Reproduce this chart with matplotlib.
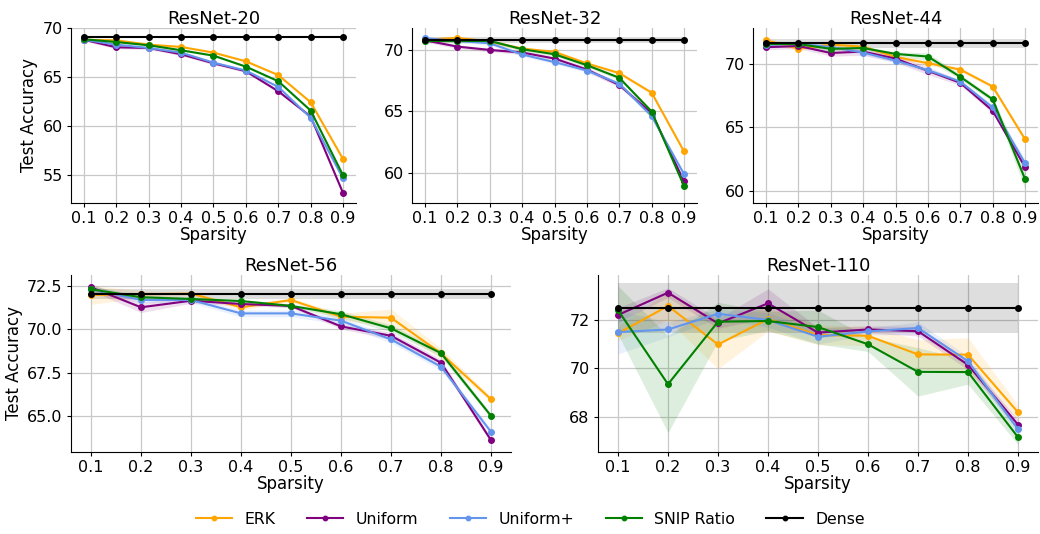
import matplotlib
matplotlib.use("Agg")
import matplotlib.pyplot as plt
import numpy as np

sparsity = [0.1, 0.2, 0.3, 0.4, 0.5, 0.6, 0.7, 0.8, 0.9]
methods = ["ERK", "Uniform", "Uniform+", "SNIP Ratio", "Dense"]
colors = ["orange", "purple", "cornflowerblue", "green", "black"]

# mean test accuracy per method (ERK, Uniform, Uniform+, SNIP Ratio, Dense)
resnet20 = [
    [68.80, 68.74, 68.30, 68.07, 67.49, 66.60, 65.20, 62.43, 56.63],
    [68.80, 68.03, 67.96, 67.32, 66.40, 65.59, 63.55, 60.97, 53.17],
    [68.80, 68.30, 67.96, 67.49, 66.47, 65.66, 63.99, 60.84, 54.66],
    [68.85, 68.57, 68.24, 67.73, 67.18, 66.06, 64.57, 61.58, 54.97],
    [69.05] * 9,
]
resnet32 = [
    [70.81, 70.95, 70.65, 70.08, 69.81, 68.87, 68.09, 66.50, 61.73],
    [70.75, 70.24, 69.97, 69.76, 69.27, 68.38, 67.12, 64.84, 59.30],
    [70.92, 70.70, 70.51, 69.60, 68.98, 68.30, 67.23, 64.60, 59.89],
    [70.70, 70.70, 70.70, 70.03, 69.62, 68.73, 67.71, 64.97, 58.92],
    [70.75] * 9,
]
resnet44 = [
    [71.82, 71.17, 71.48, 71.33, 70.52, 70.03, 69.53, 68.20, 64.06],
    [71.28, 71.38, 70.83, 70.94, 70.39, 69.43, 68.49, 66.30, 61.88],
    [71.48, 71.54, 71.30, 70.86, 70.23, 69.48, 68.59, 66.56, 62.19],
    [71.54, 71.54, 71.15, 71.22, 70.76, 70.55, 68.96, 67.19, 60.94],
    [71.59] * 9,
]
resnet56 = [
    [71.98, 72.02, 72.06, 71.27, 71.69, 70.73, 70.67, 68.62, 65.98],
    [72.42, 71.27, 71.65, 71.46, 71.35, 70.17, 69.63, 68.08, 63.62],
    [72.31, 71.69, 71.69, 70.92, 70.92, 70.50, 69.42, 67.85, 64.10],
    [72.31, 71.85, 71.75, 71.63, 71.35, 70.87, 70.06, 68.63, 65.02],
    [72.02] * 9,
]
resnet110 = [
    [71.45, 72.58, 70.99, 72.04, 71.38, 71.35, 70.58, 70.57, 68.19],
    [72.21, 73.13, 71.86, 72.69, 71.48, 71.61, 71.54, 70.15, 67.68],
    [71.50, 71.61, 72.26, 72.00, 71.31, 71.53, 71.67, 70.30, 67.49],
    [72.41, 69.35, 71.93, 71.96, 71.71, 71.00, 69.86, 69.85, 67.16],
    [72.48] * 9,
]

# spread of the shaded bands
std20 = [
    [0.10, 0.10, 0.10, 0.10, 0.10, 0.10, 0.10, 0.10, 0.15],
    [0.15, 0.15, 0.15, 0.15, 0.15, 0.15, 0.15, 0.15, 0.15],
    [0.10, 0.10, 0.10, 0.10, 0.10, 0.10, 0.10, 0.10, 0.15],
    [0.10, 0.10, 0.10, 0.10, 0.10, 0.10, 0.10, 0.10, 0.15],
    [0.10] * 9,
]
std32 = [
    [0.15, 0.15, 0.15, 0.15, 0.15, 0.15, 0.15, 0.15, 0.15],
    [0.15, 0.15, 0.15, 0.15, 0.15, 0.20, 0.20, 0.15, 0.15],
    [0.15, 0.15, 0.15, 0.15, 0.15, 0.15, 0.15, 0.15, 0.15],
    [0.15, 0.15, 0.15, 0.15, 0.15, 0.15, 0.15, 0.15, 0.15],
    [0.25] * 9,
]
std44 = [
    [0.25, 0.15, 0.15, 0.15, 0.15, 0.15, 0.15, 0.15, 0.15],
    [0.20, 0.20, 0.25, 0.30, 0.30, 0.30, 0.20, 0.20, 0.20],
    [0.15, 0.15, 0.15, 0.15, 0.15, 0.15, 0.15, 0.20, 0.30],
    [0.15, 0.15, 0.15, 0.15, 0.15, 0.30, 0.20, 0.20, 0.80],
    [0.35] * 9,
]
std56 = [
    [0.55, 0.20, 0.10, 0.15, 0.10, 0.20, 0.50, 0.30, 0.15],
    [0.20, 0.30, 0.15, 0.10, 0.10, 0.15, 0.20, 0.20, 0.15],
    [0.20, 0.15, 0.15, 0.20, 0.20, 0.20, 0.20, 0.20, 0.15],
    [0.20, 0.10, 0.10, 0.10, 0.10, 0.20, 0.20, 0.20, 0.15],
    [0.30] * 9,
]
std110 = [
    [0.30, 0.60, 1.00, 0.50, 0.40, 0.40, 0.60, 0.70, 0.30],
    [0.30, 0.20, 0.20, 0.60, 0.20, 0.15, 0.20, 0.20, 0.20],
    [0.90, 0.30, 0.20, 0.30, 0.30, 0.15, 0.25, 0.20, 0.20],
    [1.00, 2.00, 0.80, 0.40, 0.70, 0.30, 1.00, 0.50, 0.30],
    [1.03] * 9,
]

panels = [
    ("ResNet-20", resnet20, std20, (52.15, 70.0), [55, 60, 65, 70], "{:.0f}"),
    ("ResNet-32", resnet32, std32, (57.55, 71.75), [60, 65, 70], "{:.0f}"),
    ("ResNet-44", resnet44, std44, (59.06, 72.79), [60, 65, 70], "{:.0f}"),
    ("ResNet-56", resnet56, std56, (62.94, 73.13), [65.0, 67.5, 70.0, 72.5], "{:.1f}"),
    ("ResNet-110", resnet110, std110, (66.55, 73.86), [68, 70, 72], "{:.0f}"),
]

W, H = 1040, 534
# axes boxes in pixels: left, top, right, bottom
boxes = [
    (71, 28, 356, 203),
    (412, 28, 697, 203),
    (753, 28, 1038, 203),
    (71, 275, 511, 452),
    (598, 275, 1038, 452),
]

fig = plt.figure(figsize=(W / 100, H / 100), dpi=100)

handles = []
for i, (title, means, stds, ylim, yticks, fmt) in enumerate(panels):
    l, t, r, b = boxes[i]
    ax = fig.add_axes([l / W, 1 - b / H, (r - l) / W, (b - t) / H])
    for m, c, mu, sd in zip(methods, colors, means, stds):
        mu = np.array(mu)
        sd = np.array(sd)
        ax.fill_between(sparsity, mu - sd, mu + sd, color=c, alpha=0.13, lw=0)
        ln, = ax.plot(sparsity, mu, color=c, marker="o", markersize=4,
                      linewidth=1.5, label=m)
        if i == 0:
            handles.append(ln)

    ax.set_title(title, fontsize=13, pad=3)
    ax.set_ylim(*ylim)
    ax.set_xticks(sparsity)
    ax.set_xticklabels([f"{s:.1f}" for s in sparsity])
    ax.set_yticks(yticks)
    ax.set_yticklabels([fmt.format(v) for v in yticks])
    ax.tick_params(labelsize=11.5, length=3, width=0.8, pad=3)
    ax.set_xlabel("Sparsity", fontsize=12, labelpad=0)
    if i in (0, 3):
        ax.set_ylabel("Test Accuracy", fontsize=12, labelpad=3)
    ax.grid(True, color="#c8c8c8", linewidth=0.9)
    ax.set_axisbelow(True)
    ax.spines["top"].set_visible(False)
    ax.spines["right"].set_visible(False)

fig.legend(handles=handles, loc="center", bbox_to_anchor=(0.51, 0.028),
           ncol=5, frameon=False, fontsize=11.3, handlelength=2.3,
           columnspacing=2.0, markerscale=0.8)

fig.savefig("out.png", dpi=100)
